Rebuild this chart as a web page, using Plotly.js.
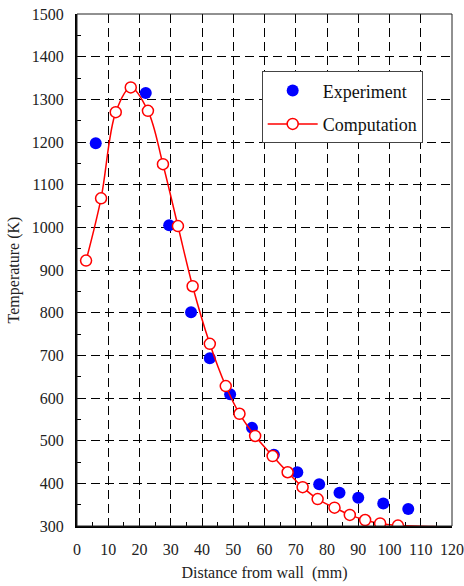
<!DOCTYPE html>
<html>
<head>
<meta charset="utf-8">
<script src="https://cdn.plot.ly/plotly-3.0.1.min.js"></script>
<style>html,body{margin:0;padding:0;background:#fff;}#chart{width:464px;height:586px;}</style>
</head>
<body>
<div id="chart"></div>
<script>
// Experiment data
var expX = [6, 22, 29.5, 36.5, 42.5, 49, 56, 63, 70.5, 77.5, 84, 90, 98, 106];
var expY = [1197, 1315, 1005, 801, 693, 609, 530, 467, 426, 398, 378, 366, 353, 340];
// Computation data (markers)
var compX = [2.9, 7.7, 12.4, 17.2, 22.7, 27.5, 32.3, 37, 42.5, 47.6, 52, 57, 62.6, 67.4, 72.2, 77, 82.4, 87.3, 92.2, 97, 102.7];
var compY = [922, 1068, 1270, 1328, 1273, 1148, 1003, 862, 727, 628, 563, 511, 464, 426, 391, 363, 343, 326, 314, 306, 301];
// Computation curve tail beyond last marker
var tailX = [102.7, 108, 114, 120];
var tailY = [301, 300, 299, 297];

var serif = 'Liberation Serif, Times New Roman, serif';

var traces = [
  {
    x: expX, y: expY, name: 'Experiment', type: 'scatter', mode: 'markers',
    legendgroup: 'a',
    marker: {color: '#0000ff', size: 12, line: {width: 0}}
  },
  {
    x: tailX, y: tailY, type: 'scatter', mode: 'lines', showlegend: false,
    legendgroup: 'b', hoverinfo: 'skip',
    line: {color: '#ff0000', width: 1.5, shape: 'spline'}
  },
  {
    x: compX, y: compY, name: 'Computation', type: 'scatter', mode: 'lines+markers',
    legendgroup: 'b',
    line: {color: '#ff0000', width: 1.5, shape: 'spline', smoothing: 1},
    marker: {symbol: 'circle', color: '#ffffff', size: 11, line: {color: '#ff0000', width: 1.5}}
  }
];

var layout = {
  width: 464, height: 586,
  margin: {l: 77, r: 12, t: 14, b: 60},
  paper_bgcolor: '#ffffff', plot_bgcolor: '#ffffff',
  font: {family: serif, color: '#222'},
  showlegend: true,
  legend: {
    x: 0.4925, y: 0.888, xanchor: 'left', yanchor: 'top',
    bgcolor: '#ffffff', bordercolor: '#444', borderwidth: 1,
    font: {family: serif, size: 18, color: '#111'},
    traceorder: 'grouped', tracegroupgap: 7, itemwidth: 50
  },
  xaxis: {
    range: [0, 120], dtick: 10, tick0: 0,
    showline: true, linecolor: '#000', linewidth: 2,
    ticks: 'inside', ticklen: 6, tickcolor: '#000', tickwidth: 1,
    showgrid: true, gridcolor: '#000', gridwidth: 1, griddash: '9px,5px',
    zeroline: false,
    minor: {ticks: 'inside', dtick: 5, ticklen: 4, tickcolor: '#000', showgrid: false},
    tickfont: {family: serif, size: 16, color: '#222'},
    ticklabelstandoff: 8,
    title: {text: 'Distance from wall  (mm)', font: {family: serif, size: 16, color: '#222'}, standoff: 10}
  },
  yaxis: {
    range: [300, 1500], dtick: 100, tick0: 300,
    showline: true, linecolor: '#000', linewidth: 2,
    ticks: 'inside', ticklen: 6, tickcolor: '#000', tickwidth: 1,
    showgrid: true, gridcolor: '#000', gridwidth: 1, griddash: '9px,5px',
    zeroline: false,
    minor: {ticks: 'inside', dtick: 50, ticklen: 4, tickcolor: '#000', showgrid: false},
    tickfont: {family: serif, size: 16, color: '#222'},
    ticklabelstandoff: 8,
    title: {text: 'Temperature (K)', font: {family: serif, size: 16, color: '#222'}, standoff: 8}
  },
  shapes: [
    {type: 'rect', xref: 'paper', yref: 'paper', x0: 0, x1: 1, y0: 0, y1: 1,
     line: {color: '#222', width: 1}, fillcolor: 'rgba(0,0,0,0)', layer: 'above'}
  ]
};

Plotly.newPlot('chart', traces, layout, {displayModeBar: false, staticPlot: true});
</script>
</body>
</html>
